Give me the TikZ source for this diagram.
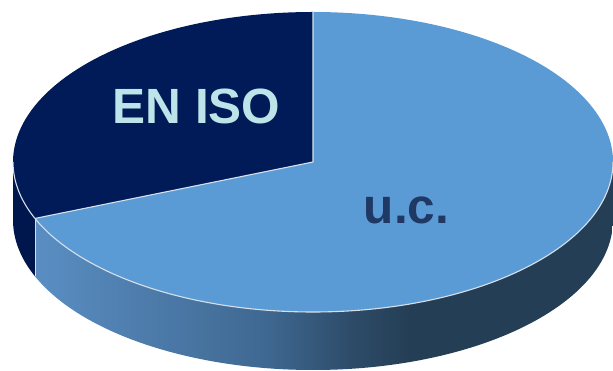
\documentclass[tikz,border=0pt]{standalone}
\usepackage{fontspec}
\setmainfont{Liberation Sans}
\usetikzlibrary{calc}
\definecolor{navytop}{HTML}{001B58}
\definecolor{navyside}{HTML}{00174E}
\definecolor{bluetop}{HTML}{5B9BD5}
\definecolor{edgelight}{HTML}{D6E0EA}
\definecolor{ucText}{HTML}{1F3864}
\definecolor{isoText}{HTML}{BDE4E8}
\definecolor{wA}{HTML}{5A8EC3}
\definecolor{wB}{HTML}{3F6891}
\definecolor{wC}{HTML}{2D4B68}
\definecolor{wD}{HTML}{243E55}
\pgfdeclarehorizontalshading{ucwall}{100bp}{color(0bp)=(wA); color(25bp)=(wA); color(45bp)=(wB); color(52.5bp)=(wC); color(57.5bp)=(wD); color(75bp)=(wD); color(100bp)=(wD)}
\tikzset{
  edge/.style={draw=edgelight, line width=1.1pt, line join=round},
  lbl/.style={font=\bfseries\fontsize{49.5}{50}\selectfont, anchor=base, inner sep=0pt}
}
\begin{document}
\begin{tikzpicture}[x=1pt,y=1pt]
\useasboundingbox (0,0) rectangle (613,371);
\def\ra{300}\def\rb{150}\def\dep{58}\def\cut{202.1}
\coordinate (c) at (313,209);
\coordinate (top) at (313,359);
\coordinate (left) at (13,209);
\coordinate (p) at ($(c)+({\ra*cos(\cut)},{\rb*sin(\cut)})$);
% EN ISO wall
\fill[navyside] (left) arc[start angle=180,end angle=\cut,x radius=\ra,y radius=\rb]
  -- ++(0,-\dep) arc[start angle=\cut,end angle=180,x radius=\ra,y radius=\rb] -- cycle;
% u.c. wall
\shade[shading=ucwall] (p) arc[start angle=\cut,end angle=360,x radius=\ra,y radius=\rb]
  -- ++(0,-\dep) arc[start angle=360,end angle=\cut,x radius=\ra,y radius=\rb] -- cycle;
% top slices
\fill[navytop] (c) -- (top) arc[start angle=90,end angle=\cut,x radius=\ra,y radius=\rb] -- cycle;
\fill[bluetop] (c) -- (p) arc[start angle=\cut,end angle=450,x radius=\ra,y radius=\rb] -- cycle;
% light edges
\draw[edge] (top) -- (c) -- (p);
\draw[edge] (p) -- ++(0,-\dep);
\draw[edge] (left) arc[start angle=180,end angle=360,x radius=\ra,y radius=\rb];
% labels
\node[lbl, text=isoText] (eniso) at (196.5,247) {EN ISO};
\node[lbl, text=ucText] (uc) at (406.5,147) {u.c.};
\end{tikzpicture}
\end{document}
